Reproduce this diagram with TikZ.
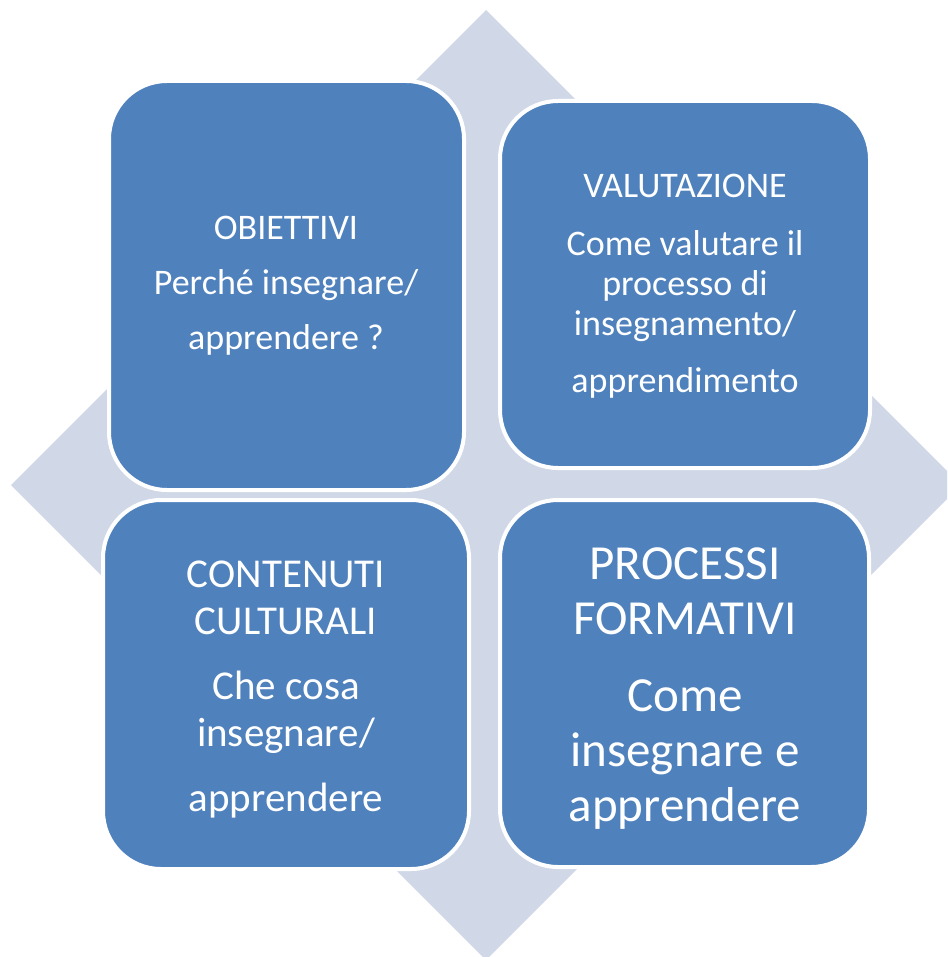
\documentclass[tikz,border=0pt]{standalone}
\usepackage{fontspec}
\setmainfont{Carlito}
\definecolor{boxblue}{HTML}{4F81BD}
\definecolor{diam}{HTML}{D0D8E8}
\begin{document}
\begin{tikzpicture}[x=1pt,y=-1pt,
  box/.style={rectangle, fill=boxblue, draw=white, line width=4pt, rounded corners=58pt, inner sep=0pt},
  lbl/.style={text=white, align=center, inner sep=0pt}]
\useasboundingbox (0,0) rectangle (947,957);
\clip (0,0) rectangle (947,957);
\fill[diam] (486,10) -- (961,485) -- (486,960) -- (11,485) -- cycle;
\node[box, minimum width=355, minimum height=409] (b1) at (286.5,285.5) {};
\node[box, minimum width=370, minimum height=367] (b2) at (685,284.5) {};
\node[box, minimum width=366, minimum height=369] (b3) at (286,684.5) {};
\node[box, minimum width=369, minimum height=367] (b4) at (684.5,683.5) {};
\node[lbl, font=\fontsize{36}{40}\selectfont] (t1) at (286,286)
  {OBIETTIVI\\[15pt]Perché insegnare/\\[15pt]apprendere ?};
\node[lbl, font=\fontsize{36}{40}\selectfont] (t2) at (685,286.5)
  {VALUTAZIONE\\[18pt]Come valutare il\\processo di\\insegnamento/\\[17pt]apprendimento};
\node[lbl, font=\fontsize{41}{47}\selectfont] (t3) at (286,689)
  {CONTENUTI\\CULTURALI\\[18pt]Che cosa\\insegnare/\\[18pt]apprendere};
\node[lbl, font=\fontsize{49}{55}\selectfont] (t4) at (685,689)
  {PROCESSI\\FORMATIVI\\[22pt]Come\\insegnare e\\apprendere};
\end{tikzpicture}
\end{document}
